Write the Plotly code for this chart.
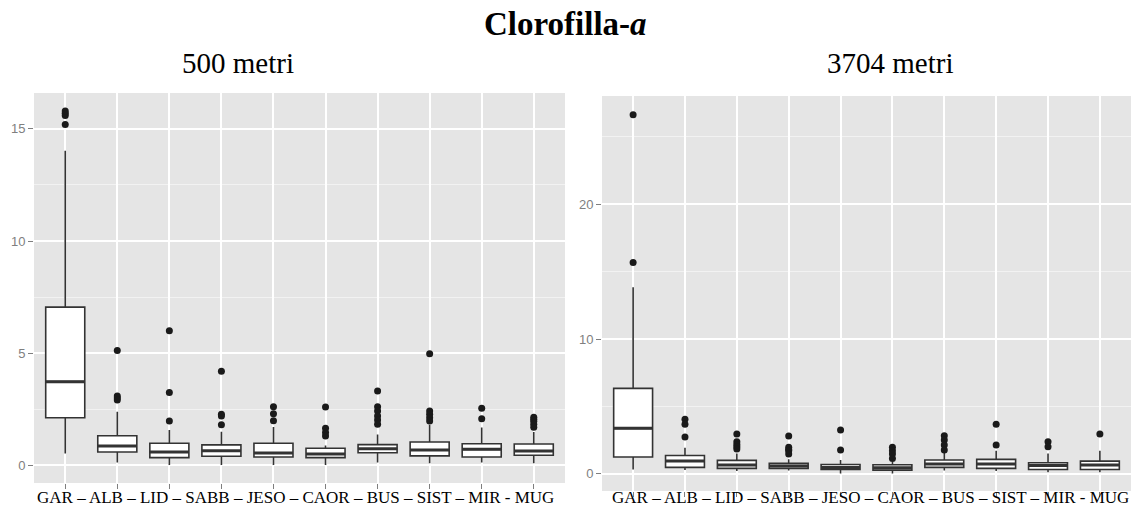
import plotly.graph_objects as go

cats = ["GAR", "ALB", "LID", "SABB", "JESO", "CAOR", "BUS", "SIST", "MIR", "MUG"]

# 500 metri
m500_q1 = [2.12, 0.59, 0.34, 0.40, 0.37, 0.34, 0.56, 0.42, 0.37, 0.45]
m500_med = [3.73, 0.86, 0.59, 0.65, 0.55, 0.50, 0.74, 0.68, 0.71, 0.64]
m500_q3 = [7.05, 1.32, 0.98, 0.91, 0.98, 0.76, 0.92, 1.04, 0.96, 0.95]
m500_lo = [0.52, 0.12, 0.01, 0.01, 0.01, 0.01, 0.12, 0.09, 0.12, 0.09]
m500_hi = [14.03, 2.39, 1.57, 1.50, 1.71, 0.88, 1.37, 1.81, 1.68, 1.48]
m500_out = [[15.2, 15.6, 15.7, 15.8], [5.12, 3.09, 3.0, 2.91], [6.0, 3.24, 1.97],
            [4.19, 2.27, 2.2, 1.81], [2.61, 2.30, 1.99], [2.60, 1.65, 1.46, 1.31],
            [3.31, 2.61, 2.42, 2.2, 2.02, 1.83], [4.97, 2.42, 2.27, 2.12, 1.97],
            [2.54, 2.08], [2.14, 2.05, 1.96, 1.83, 1.7]]

# 3704 metri
m3704_q1 = [1.24, 0.47, 0.40, 0.40, 0.32, 0.27, 0.47, 0.40, 0.32, 0.32]
m3704_med = [3.37, 0.94, 0.65, 0.57, 0.47, 0.45, 0.72, 0.72, 0.62, 0.65]
m3704_q3 = [6.34, 1.36, 0.99, 0.77, 0.69, 0.67, 1.02, 1.07, 0.82, 0.94]
m3704_lo = [0.32, 0.27, 0.20, 0.25, 0.02, 0.02, 0.25, 0.20, 0.12, 0.12]
m3704_hi = [13.84, 1.93, 1.51, 1.08, 1.02, 0.89, 1.56, 1.71, 1.51, 1.71]
m3704_out = [[26.65, 15.69], [4.04, 3.67, 2.72], [2.95, 2.38, 2.18, 2.0, 1.83],
             [2.80, 1.96, 1.8, 1.71, 1.46], [3.24, 1.76], [1.96, 1.71, 1.46, 1.14],
             [2.82, 2.5, 2.13, 1.76], [3.67, 2.13], [2.38, 2.0], [2.95]]

xlabel_text = "GAR – ALB – LID – SABB – JESO – CAOR – BUS – SIST – MIR - MUG"
title_text = "<b>Clorofilla-<i>a</i></b>"
sub_left = "500 metri"
sub_right = "3704 metri"

W, H = 1131, 508
BOXW = 0.75
LINE = "#333333"
SERIF = "Liberation Serif"

fig = go.Figure()
idx = list(range(len(cats)))


def add_panel(q1, med, q3, lo, hi, out, xa, ya):
    fig.add_trace(go.Box(
        x=idx, q1=q1, median=med, q3=q3, lowerfence=lo, upperfence=hi,
        xaxis=xa, yaxis=ya, width=BOXW, whiskerwidth=0,
        fillcolor="white", line=dict(color=LINE, width=1.6),
        boxpoints=False, showlegend=False, hoverinfo="skip"))
    ox, oy = [], []
    for i, vals in enumerate(out):
        for v in vals:
            ox.append(i)
            oy.append(v)
    fig.add_trace(go.Scatter(
        x=ox, y=oy, mode="markers", xaxis=xa, yaxis=ya,
        marker=dict(color="#1a1a1a", size=7), showlegend=False, hoverinfo="skip"))
    # thicker median lines (ggplot style)
    mx, my = [], []
    for i, m in enumerate(med):
        mx += [i - BOXW / 2, i + BOXW / 2, None]
        my += [m, m, None]
    fig.add_trace(go.Scatter(
        x=mx, y=my, mode="lines", xaxis=xa, yaxis=ya,
        line=dict(color=LINE, width=3), showlegend=False, hoverinfo="skip"))


add_panel(m500_q1, m500_med, m500_q3, m500_lo, m500_hi, m500_out, "x", "y")
add_panel(m3704_q1, m3704_med, m3704_q3, m3704_lo, m3704_hi, m3704_out, "x2", "y2")

xcommon = dict(range=[-0.6, len(cats) - 0.4], tickvals=idx, showticklabels=False,
               ticks="outside", ticklen=5, tickcolor="#7F7F7F", tickwidth=1,
               showgrid=True, gridcolor="white", gridwidth=1.5, zeroline=False,
               showline=False, fixedrange=True, automargin=False)
ycommon = dict(ticks="outside", ticklen=5, tickcolor="#7F7F7F", tickwidth=1,
               tickfont=dict(family="Liberation Sans", size=13, color="#7F7F7F"),
               showgrid=True, gridcolor="white", gridwidth=1.5, zeroline=False,
               showline=False, automargin=False, fixedrange=True)

fig.update_layout(
    width=W, height=H, margin=dict(l=0, r=0, t=0, b=0),
    paper_bgcolor="white", plot_bgcolor="#E5E5E5",
    xaxis=dict(domain=[34 / W, 565 / W], anchor="y", **xcommon),
    yaxis=dict(domain=[1 - 483 / H, 1 - 93 / H], anchor="x", range=[-0.79, 16.6],
               tickvals=[0, 5, 10, 15],
               minor=dict(showgrid=True, gridcolor="#F2F2F2", gridwidth=1,
                          tickvals=[2.5, 7.5, 12.5]),
               **ycommon),
    xaxis2=dict(domain=[602 / W, 1.0], anchor="y2", **xcommon),
    yaxis2=dict(domain=[1 - 491 / H, 1 - 96 / H], anchor="x2", range=[-1.28, 28.04],
                tickvals=[0, 10, 20],
                minor=dict(showgrid=True, gridcolor="#F2F2F2", gridwidth=1,
                           tickvals=[5, 15, 25]),
                **ycommon),
)

ann = [
    dict(text=title_text, x=565 / W, y=1 - 24 / H, size=33),
    dict(text=sub_left, x=238 / W, y=1 - 63 / H, size=29),
    dict(text=sub_right, x=890 / W, y=1 - 63 / H, size=29),
    dict(text=xlabel_text, x=295 / W, y=1 - 497 / H, size=17),
    dict(text=xlabel_text, x=870 / W, y=1 - 497 / H, size=17),
]
for a in ann:
    fig.add_annotation(text=a["text"], x=a["x"], y=a["y"], xref="paper", yref="paper",
                       xanchor="center", yanchor="middle", showarrow=False,
                       font=dict(family=SERIF, size=a["size"], color="black"))

fig.write_html("out.html", config={"displayModeBar": False},
               post_script="document.body.style.margin='0';document.body.style.overflow='hidden';")
